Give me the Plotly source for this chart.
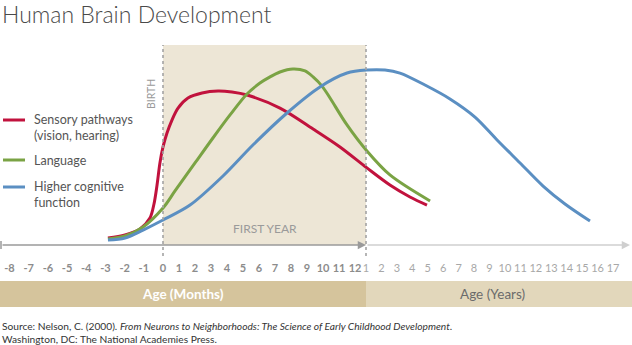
import numpy as np
import plotly.graph_objects as go

# ---- data -------------------------------------------------------------
# Timeline position: months -8..12 (prenatal and first year), then
# years 1..17 placed at positions 13..29.
MONTH_TICKS = list(range(-8, 13))
YEAR_TICKS = list(range(1, 18))

sensory_t = [-2.87, -1.98, -1.2, -0.68, -0.47, -0.31, -0.16, 0.0, 0.25, 0.56,
             0.94, 1.56, 2.44, 3.44, 4.31, 5.25, 7.31, 9.38, 11.06, 13.06,
             14.55, 15.85, 16.95]
sensory_v = [4.0, 5.7, 9.1, 15.3, 23.3, 34.1, 46.6, 55.7, 63.6, 71.0,
             77.8, 83.5, 86.4, 87.5, 86.9, 85.2, 77.8, 65.9, 55.7, 43.8,
             34.1, 27.3, 22.7]

language_t = [-2.87, -1.98, -1.04, 0.0, 0.75, 2.0, 3.12, 4.19, 5.25, 6.06,
              6.69, 7.31, 8.12, 8.88, 9.38, 9.94, 10.44, 11.5, 13.06, 14.55,
              17.15]
language_v = [3.4, 5.1, 10.2, 21.0, 30.7, 46.6, 60.8, 73.9, 85.8, 92.0,
              95.5, 98.3, 100.0, 98.9, 95.5, 90.3, 83.5, 68.2, 53.4, 39.8,
              25.0]

cognitive_t = [-2.87, -1.98, -1.04, 0.0, 1.69, 3.75, 5.62, 7.75, 9.81, 11.5,
               13.06, 14.23, 15.2, 16.82, 18.44, 20.06, 21.49, 22.98, 24.47,
               25.89, 27.51]
cognitive_v = [2.8, 4.0, 8.5, 14.2, 22.7, 39.2, 56.8, 75.0, 89.8, 97.7,
               99.4, 99.4, 97.7, 90.9, 83.0, 72.7, 59.7, 46.6, 33.5,
               23.3, 13.6]

SERIES = [
    ("Sensory pathways<br>(vision, hearing)", sensory_t, sensory_v, "#c1123d"),
    ("Language", language_t, language_v, "#7aa344"),
    ("Higher cognitive<br>function", cognitive_t, cognitive_v, "#5b8fc2"),
]

BIRTH_T = 0
FIRST_YEAR_END_T = 13

# ---- piecewise timeline scale (position -> horizontal axis units) ------
W, H = 632, 345
SCALE_T = [-8, 0, 12, 13, 29]
SCALE_X = [9.5, 163, 355, 366, 613]


def tx(t):
    return np.interp(t, SCALE_T, SCALE_X)


BASE_Y = 245          # pixel row of the timeline axis
PX_PER_UNIT = 1.76    # vertical pixels per value unit


def paper_y(py):
    return 1 - py / H


FONT = "Lato, 'Open Sans', sans-serif"

fig = go.Figure()
for name, t, v, color in SERIES:
    fig.add_trace(go.Scatter(
        x=tx(np.array(t)), y=v, mode="lines", name=name,
        line=dict(color=color, width=3, shape="spline", smoothing=0.9),
        showlegend=False, hoverinfo="skip",
    ))

shapes = []
annotations = []

# first-year band
shapes.append(dict(type="rect", xref="x", yref="paper", layer="below",
                   x0=tx(BIRTH_T), x1=tx(FIRST_YEAR_END_T),
                   y0=paper_y(BASE_Y), y1=paper_y(45),
                   fillcolor="#ede6d6", line=dict(width=0)))
# dashed markers for birth and end of first year
for t in (BIRTH_T, FIRST_YEAR_END_T):
    shapes.append(dict(type="line", xref="x", yref="paper", layer="above",
                       x0=tx(t), x1=tx(t), y0=paper_y(256), y1=paper_y(45),
                       line=dict(color="#a3a3a3", width=1.6, dash="dot")))

# timeline axis: months (dark) and years (light)
shapes.append(dict(type="line", xref="x", yref="paper",
                   x0=1, x1=1, y0=paper_y(241), y1=paper_y(249),
                   line=dict(color="#9a9a9a", width=1.5)))
annotations.append(dict(x=tx(FIRST_YEAR_END_T), y=0, ax=1, ay=0,
                        xref="x", yref="y", axref="x", ayref="y",
                        showarrow=True, arrowhead=2, arrowsize=1.1, arrowwidth=1.5,
                        arrowcolor="#9a9a9a", text=""))
annotations.append(dict(x=630, y=0, ax=tx(FIRST_YEAR_END_T), ay=0,
                        xref="x", yref="y", axref="x", ayref="y",
                        showarrow=True, arrowhead=2, arrowsize=1.1, arrowwidth=1.5,
                        arrowcolor="#cfcfcf", text=""))

# bottom age bars
shapes.append(dict(type="rect", xref="x", yref="paper", x0=0, x1=tx(FIRST_YEAR_END_T),
                   y0=paper_y(307), y1=paper_y(281), fillcolor="#d5c49c", line=dict(width=0)))
shapes.append(dict(type="rect", xref="x", yref="paper", x0=tx(FIRST_YEAR_END_T), x1=W,
                   y0=paper_y(307), y1=paper_y(281), fillcolor="#e2d7bb", line=dict(width=0)))
annotations.append(dict(x=tx(FIRST_YEAR_END_T) / 2, y=paper_y(294), xref="x", yref="paper",
                        xanchor="center", yanchor="middle",
                        text="<b>Age (Months)</b>", showarrow=False,
                        font=dict(family=FONT, size=13.5, color="white")))
annotations.append(dict(x=492, y=paper_y(294), xref="x", yref="paper",
                        xanchor="center", yanchor="middle",
                        text="Age (Years)", showarrow=False,
                        font=dict(family=FONT, size=13.5, color="#6b6b6b")))

# labels inside the plot
annotations.append(dict(x=tx(BIRTH_T) - 12, y=paper_y(77), xref="x", yref="paper",
                        text="BIRTH", textangle=-90, showarrow=False,
                        font=dict(family=FONT, size=10.5, color="#9a9a9a")))
annotations.append(dict(x=265, y=paper_y(228), xref="x", yref="paper",
                        text="FIRST YEAR", showarrow=False,
                        font=dict(family=FONT, size=12, color="#9a9a9a")))

# legend drawn as line swatches plus labels
legend_rows = [(120, 127.5), (160, 160), (187, 194.5)]
for (name, _, _, color), (line_y, text_y) in zip(SERIES, legend_rows):
    shapes.append(dict(type="line", xref="x", yref="paper", x0=3, x1=25,
                       y0=paper_y(line_y), y1=paper_y(line_y),
                       line=dict(color=color, width=3)))
    annotations.append(dict(x=32, y=paper_y(text_y), xref="x", yref="paper",
                            xanchor="left", yanchor="middle", align="left",
                            text=name, showarrow=False,
                            font=dict(family=FONT, size=12.5, color="#555555")))

# title and source
annotations.append(dict(x=0, y=paper_y(14), xref="paper", yref="paper",
                        xanchor="left", yanchor="middle",
                        text="Human Brain Development", showarrow=False,
                        font=dict(family=FONT, size=23, color="#4a4a4a", weight=300)))
annotations.append(dict(x=0, y=paper_y(332), xref="paper", yref="paper",
                        xanchor="left", yanchor="middle", align="left",
                        text=("Source: Nelson, C. (2000). <i>From Neurons to Neighborhoods: "
                              "The Science of Early Childhood Development</i>.<br>"
                              "Washington, DC: The National Academies Press."),
                        showarrow=False,
                        font=dict(family=FONT, size=10.2, color="#333333")))

tick_vals = [tx(m) for m in MONTH_TICKS] + [tx(12 + y) for y in YEAR_TICKS]
tick_text = [f"<b>{m}</b>" for m in MONTH_TICKS] + \
            [f"<span style='color:#a8a8a8'>{y}</span>" for y in YEAR_TICKS]

fig.update_layout(
    width=W, height=H, margin=dict(l=0, r=0, t=0, b=0),
    paper_bgcolor="white", plot_bgcolor="rgba(0,0,0,0)",
    xaxis=dict(range=[0, W], anchor="free", position=paper_y(260),
               tickmode="array", tickvals=tick_vals, ticktext=tick_text,
               tickangle=0,
               showgrid=False, zeroline=False, showline=False, ticks="",
               tickfont=dict(family=FONT, size=11, color="#8c8c8c"),
               fixedrange=True),
    yaxis=dict(range=[-(H - BASE_Y) / PX_PER_UNIT, BASE_Y / PX_PER_UNIT],
               visible=False, fixedrange=True),
    shapes=shapes, annotations=annotations, showlegend=False,
)

fig.write_html("out.html")
